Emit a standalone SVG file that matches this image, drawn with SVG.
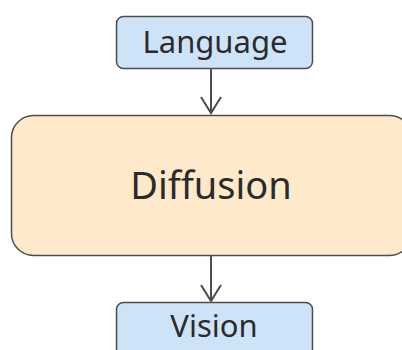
<svg xmlns="http://www.w3.org/2000/svg" width="402" height="350" viewBox="0 0 402 350">
<defs>
<style>
.box{stroke:#4d4d4d;stroke-width:1.5}
.blue{fill:#cfe3f8}
.orange{fill:#ffe9cb}
.lbl{font-family:"Noto Sans","Open Sans",sans-serif;fill:#2b2b2b;text-anchor:middle}
.edge{stroke:#4d4d4d;stroke-width:2;fill:none}
</style>
<marker id="arr" viewBox="0 0 20 22" refX="18" refY="11" markerWidth="20" markerHeight="22" markerUnits="userSpaceOnUse" orient="auto">
<path d="M2 1 L18 11 L2 21" fill="none" stroke="#4d4d4d" stroke-width="2"/>
</marker>
</defs>
<rect width="402" height="350" fill="#ffffff"/>
<g id="connectors">
<line class="edge" x1="211" y1="69" x2="211" y2="113" marker-end="url(#arr)"/>
<line class="edge" x1="211" y1="255" x2="211" y2="301" marker-end="url(#arr)"/>
</g>
<g id="node-language">
<rect class="box blue" x="116.5" y="16.5" width="196" height="52" rx="7"/>
<text class="lbl" x="215" y="53" font-size="31">Language</text>
</g>
<g id="node-diffusion">
<rect class="box orange" x="11.5" y="115.5" width="400" height="140" rx="22"/>
<text class="lbl" x="211" y="199" font-size="38">Diffusion</text>
</g>
<g id="node-vision">
<rect class="box blue" x="116.5" y="302.5" width="196" height="60" rx="7"/>
<text class="lbl" x="214" y="337" font-size="31">Vision</text>
</g>
</svg>
